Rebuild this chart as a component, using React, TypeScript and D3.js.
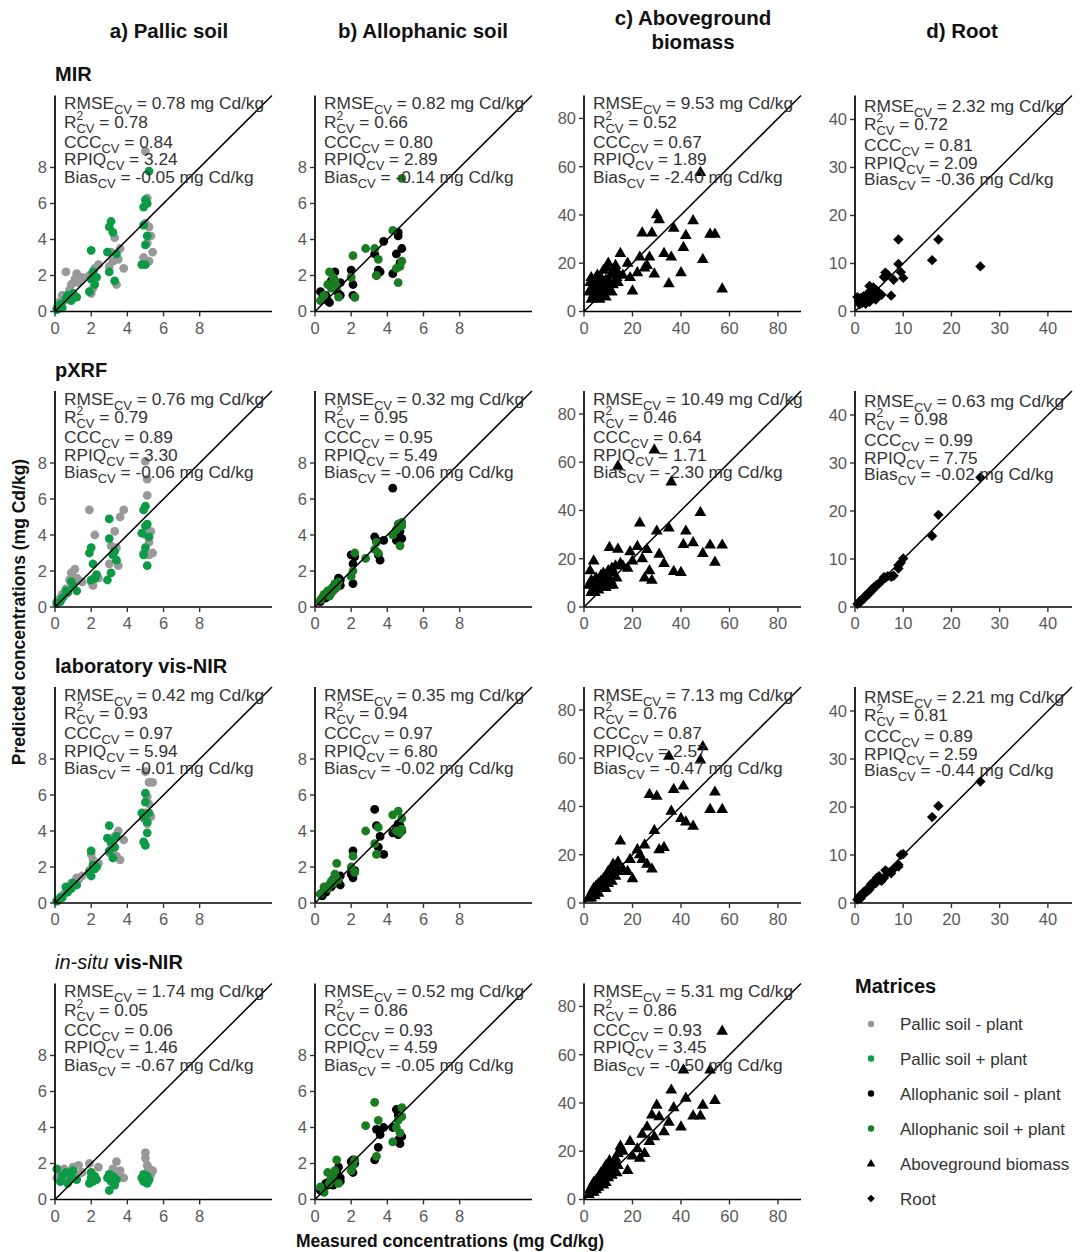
import React from 'react';
import * as d3 from 'd3';

const FONT = "'Liberation Sans', Arial, Helvetica, sans-serif";
const GRAY = '#999999';
const PALLIC_GREEN = '#0c9a47';
const ALLO_GREEN = '#1b7d22';
const BLACK = '#000000';

// ---------- column / row labels ----------
const columnTitles = [['a) Pallic soil'], ['b) Allophanic soil'], ['c) Aboveground', 'biomass'], ['d) Root']];
const techniques = ['MIR', 'pXRF', 'laboratory vis-NIR', 'in-situ vis-NIR'];
const legendItems = ['Pallic soil - plant', 'Pallic soil + plant', 'Allophanic soil - plant', 'Allophanic soil + plant', 'Aboveground biomass', 'Root'];

// ---------- measured concentrations ----------
const pallicMinusX = [0.1, 0.2, 0.3, 0.4, 0.5, 0.6, 0.7, 0.8, 0.9, 1.0, 1.1, 1.2, 1.3, 1.5, 1.9, 2.0, 2.1, 2.2, 2.4, 3.0, 3.1, 3.2, 3.3, 3.4, 3.5, 3.6, 3.8, 4.9, 5.0, 5.0, 5.1, 5.1, 5.2, 5.2, 5.3, 5.4];
const pallicPlusX = [0.1, 0.3, 0.4, 0.6, 0.7, 0.9, 1.0, 1.2, 1.9, 2.0, 2.0, 2.1, 2.2, 2.3, 2.9, 3.0, 3.0, 3.1, 3.2, 3.3, 3.4, 4.8, 4.9, 4.9, 5.0, 5.0, 5.0, 5.1, 5.1, 5.2];
const alloMinusX = [0.3, 0.4, 0.5, 0.6, 0.7, 0.8, 0.9, 1.0, 1.1, 1.2, 1.3, 1.4, 1.4, 2.0, 2.1, 2.1, 2.2, 3.3, 3.4, 3.5, 3.6, 3.8, 4.3, 4.5, 4.6, 4.6, 4.7, 4.8];
const alloPlusX = [0.3, 0.5, 0.7, 0.8, 0.9, 1.0, 1.1, 1.2, 1.3, 2.0, 2.1, 2.2, 2.8, 3.3, 3.4, 3.5, 4.3, 4.5, 4.6, 4.7, 4.8, 4.8];
const biomassX = [2, 2.5, 3, 3, 3.5, 4, 4, 4.5, 5, 5, 5.5, 6, 6, 6.5, 7, 7, 7.5, 8, 8, 8.5, 9, 9, 9.5, 10, 10, 10.5, 11, 11.5, 12, 12, 13, 13.5, 14, 14, 15, 16, 18, 19, 20, 22, 23, 24, 25, 26, 27, 28, 29, 30, 31, 33, 35, 36, 37, 40, 41, 42, 45, 48, 49, 52, 54, 57];
const rootX = [0.5, 0.8, 1, 1.2, 1.5, 1.8, 2, 2.2, 2.5, 2.8, 3, 3, 3.3, 3.5, 3.8, 4, 4.3, 4.5, 5, 5.5, 6, 6.3, 6.8, 7.5, 8, 9, 9, 9.5, 10, 16, 17.3, 26];

// ---------- predicted: MIR ----------
const pallicMinusMIR = [0.2, 0.5, 0.3, 0.9, 0.6, 2.2, 0.9, 1.2, 1.5, 1.0, 1.8, 2.1, 1.6, 1.9, 2.0, 1.0, 1.3, 2.4, 2.6, 2.5, 3.3, 2.8, 4.1, 1.5, 2.9, 3.5, 2.4, 3.0, 8.9, 4.9, 6.3, 3.8, 4.7, 2.8, 4.2, 3.3];
const pallicPlusMIR = [0.1, 0.4, 0.2, 0.7, 0.9, 0.6, 1.0, 0.8, 1.1, 1.8, 3.4, 2.2, 1.5, 1.9, 3.3, 4.7, 2.2, 5.0, 4.4, 1.7, 3.2, 2.6, 5.8, 4.8, 6.2, 3.7, 2.6, 4.2, 6.0, 7.8];
const alloMinusMIR = [1.1, 0.7, 0.8, 0.9, 0.6, 0.5, 1.7, 1.9, 2.2, 1.4, 1.0, 1.6, 0.9, 2.3, 0.9, 1.5, 0.8, 3.2, 2.0, 2.3, 2.2, 3.9, 2.1, 3.2, 4.2, 4.4, 2.7, 3.5];
const alloPlusMIR = [0.6, 0.9, 1.5, 2.2, 1.3, 1.9, 1.7, 1.4, 0.8, 1.9, 3.1, 0.8, 3.5, 3.5, 2.0, 2.9, 4.5, 2.4, 1.6, 2.5, 2.8, 7.4];
const biomassMIR = [8, 12, 5, 14, 10, 7, 11, 13, 6, 9, 15, 8, 12, 5, 10, 14, 7, 11, 17, 9, 13, 6, 18, 10, 20, 12, 15, 8, 17, 11, 19, 14, 16, 12, 24, 15, 20, 14, 8.5, 16, 22.5, 32.5, 18, 19, 22.5, 32.5, 15.5, 40, 38, 24, 11.5, 22.5, 34.5, 16, 26.5, 31.5, 37.6, 57.6, 21.5, 32, 32, 9.3];
const rootMIR = [3.0, 2.2, 1.5, 2.8, 1.8, 3.2, 2.3, 1.6, 2.8, 3.9, 5.3, 2.0, 4.2, 3.0, 5.0, 3.6, 2.5, 4.4, 3.8, 3.5, 7.2, 8.1, 7.6, 3.3, 6.6, 15, 9.9, 8.2, 7.0, 10.7, 15, 9.4];

// ---------- predicted: pXRF ----------
const pallicMinusPXRF = [0.3, 0.4, 0.5, 0.7, 0.6, 1.0, 0.8, 1.5, 1.9, 1.2, 2.1, 1.6, 1.5, 1.4, 5.4, 1.4, 1.2, 4.0, 1.6, 2.4, 3.4, 2.9, 4.2, 3.3, 2.3, 5.0, 5.4, 3.0, 8.1, 4.0, 7.1, 6.2, 3.6, 2.9, 4.2, 3.0];
const pallicPlusPXRF = [0.2, 0.3, 0.5, 0.9, 0.8, 1.4, 1.2, 0.9, 3.0, 3.3, 1.5, 2.4, 1.6, 1.8, 1.5, 4.9, 3.8, 1.9, 2.9, 3.1, 2.6, 4.1, 2.9, 5.4, 4.5, 3.3, 5.6, 2.3, 4.6, 3.9];
const alloMinusPXRF = [0.3, 0.5, 0.6, 0.5, 0.8, 0.9, 0.8, 1.1, 1.0, 1.3, 1.6, 1.5, 1.2, 2.9, 2.4, 1.3, 2.8, 3.9, 3.7, 2.9, 2.6, 3.7, 6.6, 3.7, 4.1, 3.9, 4.2, 3.8];
const alloPlusPXRF = [0.4, 0.7, 0.9, 0.6, 1.0, 0.9, 1.3, 1.1, 1.4, 1.7, 2.0, 3.0, 2.7, 3.2, 3.6, 3.0, 4.0, 4.3, 4.6, 3.4, 4.7, 4.5];
const biomassPXRF = [9, 15, 6, 11, 7, 19, 9, 6, 10, 12, 8, 11, 7, 9, 13, 10, 12, 9, 14, 11, 8, 12, 10, 15, 9, 24.6, 11, 16, 14, 9, 17, 12, 58.3, 23.9, 18, 17, 16, 22.9, 19, 25, 34.8, 20, 12, 23.8, 15, 11, 65, 31.4, 21.8, 18, 32.7, 51.8, 14.7, 14.3, 25.9, 31.4, 26.6, 39.1, 22.1, 25.6, 18.5, 25.6];
const rootPXRF = [0.6, 0.9, 1.2, 1.1, 1.6, 1.7, 2.2, 2.1, 2.6, 2.7, 3.2, 2.9, 3.4, 3.6, 3.7, 4.2, 4.3, 4.6, 4.9, 5.4, 6.2, 6.1, 6.4, 6.3, 6.5, 8.0, 8.7, 9.2, 10.1, 14.8, 19.2, 27];

// ---------- predicted: laboratory vis-NIR ----------
const pallicMinusLab = [0.1, 0.2, 0.3, 0.4, 0.5, 0.6, 0.7, 0.9, 1.1, 1.0, 1.2, 1.4, 1.3, 1.5, 1.8, 2.7, 2.4, 2.1, 2.2, 2.8, 3.3, 3.0, 3.7, 2.6, 4.0, 2.4, 3.5, 4.7, 7.3, 5.0, 5.9, 4.4, 6.7, 5.5, 4.8, 6.7];
const pallicPlusLab = [0.1, 0.3, 0.3, 0.9, 0.6, 0.8, 1.1, 1.0, 1.7, 2.9, 1.5, 2.1, 1.9, 2.0, 3.6, 2.9, 4.3, 3.4, 2.5, 3.1, 3.7, 5.0, 3.4, 4.8, 6.1, 3.2, 5.6, 4.5, 3.9, 5.0];
const alloMinusLab = [0.5, 0.4, 0.7, 0.6, 0.8, 1.0, 0.9, 1.3, 1.1, 1.4, 1.2, 1.0, 1.5, 1.6, 2.9, 1.4, 1.8, 5.2, 4.3, 3.1, 3.7, 2.7, 3.9, 4.1, 4.4, 3.8, 4.3, 4.0];
const alloPlusLab = [0.5, 0.9, 0.8, 1.0, 1.2, 1.1, 1.6, 2.2, 1.3, 2.0, 2.6, 1.7, 4.0, 3.3, 2.7, 4.2, 4.9, 4.0, 5.1, 3.9, 4.7, 4.1];
const biomassLab = [2, 3, 4, 2, 5, 4, 6, 3, 7, 5, 6, 8, 4, 7, 9, 6, 8, 10, 7, 9, 11, 6, 12, 8, 13, 10, 14, 9, 12, 16, 11, 15, 13, 17, 25.6, 14, 13, 18, 10, 22, 20, 18, 24, 16, 44.9, 14, 30, 44.2, 22, 23, 60.8, 38, 47, 35, 48.4, 33.5, 31.8, 59.2, 64.7, 38.7, 45.9, 38.7];
const rootLab = [0.7, 1.2, 1.5, 1.0, 1.9, 2.3, 2.0, 2.6, 2.4, 3.0, 3.3, 2.8, 3.9, 3.6, 4.3, 4.5, 4.1, 5.2, 5.6, 4.6, 5.2, 6.8, 6.4, 6.2, 7.1, 7.6, 8.0, 10, 10.2, 17.9, 20.2, 25.3];

// ---------- predicted: in-situ vis-NIR ----------
const pallicMinusInsitu = [1.2, 1.6, 1.0, 1.4, 1.7, 1.3, 1.5, 1.1, 1.6, 1.8, 1.4, 1.2, 1.9, 1.5, 2.0, 1.5, 1.3, 1.1, 1.8, 1.4, 1.2, 1.7, 1.0, 2.1, 1.3, 1.6, 1.2, 1.3, 2.6, 2.3, 1.5, 1.9, 1.7, 1.2, 1.4, 1.6];
const pallicPlusInsitu = [1.7, 1.0, 1.3, 1.5, 0.9, 1.2, 1.6, 1.1, 0.9, 1.2, 1.5, 1.0, 1.3, 1.1, 1.2, 0.5, 1.4, 1.0, 1.3, 0.8, 1.1, 1.2, 1.0, 1.4, 1.3, 1.1, 1.2, 0.9, 1.3, 1.1];
const alloMinusInsitu = [0.5, 0.6, 0.7, 0.9, 0.8, 1.0, 1.3, 0.8, 1.1, 1.5, 1.8, 1.2, 1.0, 2.1, 2.2, 1.5, 2.0, 2.2, 3.9, 2.9, 3.6, 4.0, 4.0, 5.0, 3.3, 4.7, 3.1, 3.5];
const alloPlusInsitu = [0.7, 0.4, 1.5, 0.9, 1.2, 1.4, 1.6, 2.2, 0.9, 1.6, 1.9, 2.2, 4.1, 5.4, 2.4, 4.4, 3.2, 4.0, 4.4, 3.7, 5.1, 4.6];
const biomassInsitu = [2, 4, 3, 5, 6, 3, 7, 5, 4, 8, 6, 9, 5, 10, 7, 11, 8, 6, 12, 9, 14, 7, 11, 13, 9, 16, 12, 10, 15, 13, 17, 11, 19, 14, 22, 20, 12, 24, 18, 21, 17, 27, 19, 30, 24, 35, 26, 39, 34.2, 28, 32, 45.3, 38, 30, 53.6, 41.9, 34.6, 34.6, 39, 53.6, 41, 69.7];

// ---------- statistics (RMSE, R2, CCC, RPIQ, Bias) ----------
const statsMIR = [['0.78', '0.78', '0.84', '3.24', '-0.05'], ['0.82', '0.66', '0.80', '2.89', '-0.14'], ['9.53', '0.52', '0.67', '1.89', '-2.40'], ['2.32', '0.72', '0.81', '2.09', '-0.36']];
const statsPXRF = [['0.76', '0.79', '0.89', '3.30', '-0.06'], ['0.32', '0.95', '0.95', '5.49', '-0.06'], ['10.49', '0.46', '0.64', '1.71', '-2.30'], ['0.63', '0.98', '0.99', '7.75', '-0.02']];
const statsLab = [['0.42', '0.93', '0.97', '5.94', '-0.01'], ['0.35', '0.94', '0.97', '6.80', '-0.02'], ['7.13', '0.76', '0.87', '2.57', '-0.47'], ['2.21', '0.81', '0.89', '2.59', '-0.44']];
const statsInsitu = [['1.74', '0.05', '0.06', '1.46', '-0.67'], ['0.52', '0.86', '0.93', '4.59', '-0.05'], ['5.31', '0.86', '0.93', '3.45', '-0.50']];

const soilTicks = [0, 2, 4, 6, 8];
const biomassTicks = [0, 20, 40, 60, 80];
const rootTicks = [0, 10, 20, 30, 40];

// ---------- layout ----------
const W = 1084;
const H = 1252;
const colLeft = [55, 315, 584, 855];
const rowBottom = [311.5, 607, 903, 1199.5];
const PW = 217;
const PH = 216;

type Shape = 'circle' | 'triangle' | 'diamond';
type Series = { x: number[]; y: number[]; color: string; shape: Shape };
type Kind = 'soil' | 'biomass' | 'root';

const triPath = d3.symbol(d3.symbolTriangle, 60)() as string;
const triPathSmall = d3.symbol(d3.symbolTriangle, 32)() as string;
const diamondPath = (r: number) => `M0,${-r}L${r},0L0,${r}L${-r},0Z`;

function Mark({ shape, cx, cy, color, small }: { shape: Shape; cx: number; cy: number; color: string; small?: boolean }) {
  if (shape === 'circle') return <circle cx={cx} cy={cy} r={small ? 3.2 : 4.4} fill={color} />;
  if (shape === 'triangle') return <path d={small ? triPathSmall : triPath} transform={`translate(${cx},${cy})`} fill={color} />;
  return <path d={diamondPath(small ? 3.8 : 5.2)} transform={`translate(${cx},${cy})`} fill={color} />;
}

function StatBlock({ x, top, s, kind }: { x: number; top: number; s: string[]; kind: Kind }) {
  const offs = kind === 'root' ? [16, 34, 55, 73, 89] : [13.5, 32, 52, 69.5, 87];
  const fs = 17.3;
  const sub = 13;
  const common = { x, fontFamily: FONT, fontSize: fs, fill: '#333' };
  return (
    <g>
      <text {...common} y={top + offs[0]}>
        <tspan>RMSE</tspan>
        <tspan fontSize={sub} dy={5}>CV</tspan>
        <tspan dy={-5}>{` = ${s[0]} mg Cd/kg`}</tspan>
      </text>
      <text {...common} y={top + offs[1]}>
        <tspan>R</tspan>
        <tspan fontSize={12} dy={-8}>2</tspan>
        <tspan fontSize={sub} dx={-6.7} dy={13}>CV</tspan>
        <tspan dy={-5}>{` = ${s[1]}`}</tspan>
      </text>
      <text {...common} y={top + offs[2]}>
        <tspan>CCC</tspan>
        <tspan fontSize={sub} dy={5}>CV</tspan>
        <tspan dy={-5}>{` = ${s[2]}`}</tspan>
      </text>
      <text {...common} y={top + offs[3]}>
        <tspan>RPIQ</tspan>
        <tspan fontSize={sub} dy={5}>CV</tspan>
        <tspan dy={-5}>{` = ${s[3]}`}</tspan>
      </text>
      <text {...common} y={top + offs[4]}>
        <tspan>Bias</tspan>
        <tspan fontSize={sub} dy={5}>CV</tspan>
        <tspan dy={-5}>{` = ${s[4]} mg Cd/kg`}</tspan>
      </text>
    </g>
  );
}

function Panel({ left, bottom, kind, series, stats }: { left: number; bottom: number; kind: Kind; series: Series[]; stats: string[] }) {
  const max = kind === 'soil' ? 12 : kind === 'biomass' ? 89.5 : 45;
  const ticks = kind === 'soil' ? soilTicks : kind === 'biomass' ? biomassTicks : rootTicks;
  const xs = d3.scaleLinear().domain([0, max]).range([left, left + PW]);
  const ys = d3.scaleLinear().domain([0, max]).range([bottom, bottom - PH]);
  const top = bottom - PH;
  return (
    <g>
      {series.map((s, si) =>
        s.x.map((xv, i) => <Mark key={`${si}-${i}`} shape={s.shape} cx={xs(xv)} cy={ys(s.y[i])} color={s.color} />)
      )}
      <line x1={xs(0)} y1={ys(0)} x2={xs(max)} y2={ys(max)} stroke="#000" strokeWidth={1.5} />
      <line x1={left} y1={bottom} x2={left + PW} y2={bottom} stroke="#000" strokeWidth={1.7} />
      <line x1={left} y1={bottom} x2={left} y2={top} stroke="#000" strokeWidth={1.7} />
      {ticks.map((t) => (
        <g key={`x${t}`}>
          <line x1={xs(t)} x2={xs(t)} y1={bottom} y2={bottom + 5} stroke="#333" strokeWidth={1.4} />
          <text x={xs(t)} y={bottom + 22} textAnchor="middle" fontFamily={FONT} fontSize={16.5} fill="#595959">{t}</text>
        </g>
      ))}
      {ticks.map((t) => (
        <g key={`y${t}`}>
          <line x1={left - 5} x2={left} y1={ys(t)} y2={ys(t)} stroke="#333" strokeWidth={1.4} />
          <text x={left - 8} y={ys(t)} dy="0.36em" textAnchor="end" fontFamily={FONT} fontSize={16.5} fill="#595959">{t}</text>
        </g>
      ))}
      <StatBlock x={left + 9} top={top} s={stats} kind={kind} />
    </g>
  );
}

const soilA = (gm: number[], gp: number[]): Series[] => [
  { x: pallicMinusX, y: gm, color: GRAY, shape: 'circle' },
  { x: pallicPlusX, y: gp, color: PALLIC_GREEN, shape: 'circle' },
];
const soilB = (bm: number[], bp: number[]): Series[] => [
  { x: alloMinusX, y: bm, color: BLACK, shape: 'circle' },
  { x: alloPlusX, y: bp, color: ALLO_GREEN, shape: 'circle' },
];
const bio = (y: number[]): Series[] => [{ x: biomassX, y, color: BLACK, shape: 'triangle' }];
const root = (y: number[]): Series[] => [{ x: rootX, y, color: BLACK, shape: 'diamond' }];

const panelRows: { kind: Kind; series: Series[] }[][] = [
  [
    { kind: 'soil', series: soilA(pallicMinusMIR, pallicPlusMIR) },
    { kind: 'soil', series: soilB(alloMinusMIR, alloPlusMIR) },
    { kind: 'biomass', series: bio(biomassMIR) },
    { kind: 'root', series: root(rootMIR) },
  ],
  [
    { kind: 'soil', series: soilA(pallicMinusPXRF, pallicPlusPXRF) },
    { kind: 'soil', series: soilB(alloMinusPXRF, alloPlusPXRF) },
    { kind: 'biomass', series: bio(biomassPXRF) },
    { kind: 'root', series: root(rootPXRF) },
  ],
  [
    { kind: 'soil', series: soilA(pallicMinusLab, pallicPlusLab) },
    { kind: 'soil', series: soilB(alloMinusLab, alloPlusLab) },
    { kind: 'biomass', series: bio(biomassLab) },
    { kind: 'root', series: root(rootLab) },
  ],
  [
    { kind: 'soil', series: soilA(pallicMinusInsitu, pallicPlusInsitu) },
    { kind: 'soil', series: soilB(alloMinusInsitu, alloPlusInsitu) },
    { kind: 'biomass', series: bio(biomassInsitu) },
  ],
];
const statsRows = [statsMIR, statsPXRF, statsLab, statsInsitu];

const legendColors = [GRAY, PALLIC_GREEN, BLACK, ALLO_GREEN, BLACK, BLACK];
const legendShapes: Shape[] = ['circle', 'circle', 'circle', 'circle', 'triangle', 'diamond'];
const legendY = [1024, 1058.5, 1093.5, 1128.5, 1164, 1198.5];

const titleCenters = [169, 423, 693, 962];

export default function App() {
  return (
    <svg width={W} height={H} style={{ position: 'absolute', left: 0, top: 0, background: '#fff' }}>
      <rect x={0} y={0} width={W} height={H} fill="#fff" />
      {/* column titles */}
      {columnTitles.map((lines, i) =>
        lines.map((ln, j) => (
          <text key={`t${i}-${j}`} x={titleCenters[i]} y={lines.length > 1 ? 25 + j * 24 : 38} textAnchor="middle" fontFamily={FONT} fontWeight="bold" fontSize={20.5} fill="#111">
            {ln}
          </text>
        ))
      )}
      {/* row labels */}
      {techniques.map((t, r) => (
        <text key={`r${r}`} x={55} y={rowBottom[r] - PH - 14.5} fontFamily={FONT} fontSize={20} fill="#111">
          {t === 'in-situ vis-NIR' ? (
            <>
              <tspan fontStyle="italic">in-situ</tspan>
              <tspan fontWeight="bold"> vis-NIR</tspan>
            </>
          ) : (
            <tspan fontWeight="bold">{t}</tspan>
          )}
        </text>
      ))}
      {/* panels */}
      {panelRows.map((row, r) =>
        row.map((p, c) => (
          <Panel key={`p${r}-${c}`} left={colLeft[c]} bottom={rowBottom[r]} kind={p.kind} series={p.series} stats={statsRows[r][c]} />
        ))
      )}
      {/* axis titles */}
      <text x={450} y={1247} textAnchor="middle" fontFamily={FONT} fontWeight="bold" fontSize={17.5} fill="#111">
        Measured concentrations (mg Cd/kg)
      </text>
      <text transform={`translate(25,612) rotate(-90)`} textAnchor="middle" fontFamily={FONT} fontWeight="bold" fontSize={17.5} fill="#111">
        Predicted concentrations (mg Cd/kg)
      </text>
      {/* legend */}
      <text x={855} y={993} fontFamily={FONT} fontWeight="bold" fontSize={20} fill="#111">Matrices</text>
      {legendItems.map((item, i) => (
        <g key={`l${i}`}>
          <Mark shape={legendShapes[i]} cx={871} cy={legendY[i]} color={legendColors[i]} small />
          <text x={900} y={legendY[i]} dy="0.36em" fontFamily={FONT} fontSize={17} fill="#333">{item}</text>
        </g>
      ))}
    </svg>
  );
}
